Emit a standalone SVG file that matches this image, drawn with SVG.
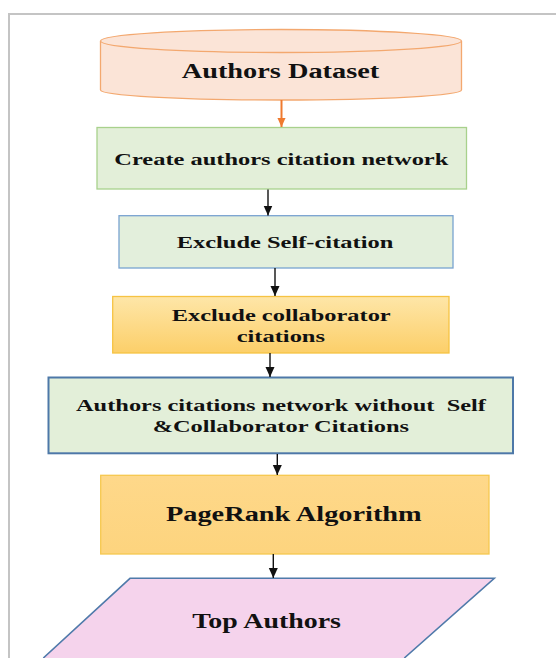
<svg xmlns="http://www.w3.org/2000/svg" width="556" height="658" viewBox="0 0 556 658">
<defs>
<style>
.t{font-family:"Liberation Serif","Times New Roman",serif;font-weight:bold;fill:#111;}
.s17{font-size:17px;}
.s20{font-size:20px;}
.con{stroke:#111;stroke-width:1.4;fill:none;}
</style>
<linearGradient id="gOr" x1="0" y1="0" x2="0" y2="1">
<stop offset="0" stop-color="#fee6a8"/>
<stop offset="1" stop-color="#fccf69"/>
</linearGradient>
<linearGradient id="gOr2" x1="0" y1="0" x2="0" y2="1">
<stop offset="0" stop-color="#fed88a"/>
<stop offset="1" stop-color="#fdd47e"/>
</linearGradient>
<marker id="ah" markerUnits="userSpaceOnUse" markerWidth="10" markerHeight="10" viewBox="0 0 10 10" refX="10" refY="5" orient="auto">
<path d="M0,0.5 L10,5 L0,9.5 Z" fill="#111"/>
</marker>
<marker id="aho" markerUnits="userSpaceOnUse" markerWidth="9" markerHeight="9" viewBox="0 0 10 10" refX="10" refY="5" orient="auto">
<path d="M0,0.5 L10,5 L0,9.5 Z" fill="#ef7a2f"/>
</marker>
</defs>
<rect width="556" height="658" fill="#fff"/>
<path d="M9,658 V14 H556" fill="none" stroke="#c4c4c4" stroke-width="2"/>

<g id="dataset">
<path d="M100.5,41 V90 A180.5,10 0 0 0 461.5,90 V41" fill="#fbe4d7" stroke="#f3a86f" stroke-width="1.3"/>
<ellipse cx="281" cy="41" rx="180.5" ry="11.5" fill="#fbe4d7" stroke="#f3a86f" stroke-width="1.3"/>
<text class="t s20" x="181.7" y="78.3" textLength="197.6" lengthAdjust="spacingAndGlyphs">Authors Dataset</text>
</g>

<g id="create">
<rect x="97" y="127.5" width="369.5" height="61.5" fill="#e3efd9" stroke="#a8d18c" stroke-width="1.3"/>
<text class="t s17" x="114.3" y="165" textLength="334" lengthAdjust="spacingAndGlyphs">Create authors citation network</text>
</g>

<g id="selfcite">
<rect x="119" y="215.7" width="334" height="52.3" fill="#e3efdc" stroke="#79a3d0" stroke-width="1.3"/>
<text class="t s17" x="176.7" y="248.3" textLength="216.6" lengthAdjust="spacingAndGlyphs">Exclude Self-citation</text>
</g>

<g id="collab">
<rect x="112.7" y="296.5" width="336.3" height="56.5" fill="url(#gOr)" stroke="#f6c343" stroke-width="1.3"/>
<text class="t s17" x="171.7" y="321" textLength="219" lengthAdjust="spacingAndGlyphs">Exclude collaborator</text>
<text class="t s17" x="236.7" y="342" textLength="88.3" lengthAdjust="spacingAndGlyphs">citations</text>
</g>

<g id="network">
<rect x="48.5" y="377.5" width="464.5" height="75.8" fill="#e3efd9" stroke="#4d78a8" stroke-width="2"/>
<text class="t s17" x="76" y="410.7" textLength="410" lengthAdjust="spacingAndGlyphs" style="white-space:pre">Authors citations network without  Self</text>
<text class="t s17" x="152.7" y="431.7" textLength="256.3" lengthAdjust="spacingAndGlyphs">&amp;Collaborator Citations</text>
</g>

<g id="pagerank">
<rect x="100.7" y="475.3" width="388.3" height="78.7" fill="url(#gOr2)" stroke="#f6c84f" stroke-width="1.3"/>
<text class="t s20" x="166" y="521" textLength="255.7" lengthAdjust="spacingAndGlyphs">PageRank Algorithm</text>
</g>

<g id="top">
<path d="M130,578.3 H494.3 L404.3,658 M43.3,658 L130,578.3" fill="none"/>
<path d="M130,578.3 L494.3,578.3 L404.3,658 L43.3,658 Z" fill="#f5d3ec" stroke="none"/>
<path d="M43.3,658 L130,578.3 L494.3,578.3 L404.3,658" fill="none" stroke="#4f7aaa" stroke-width="1.6"/>
<text class="t s20" x="192.3" y="628.3" textLength="148.7" lengthAdjust="spacingAndGlyphs">Top Authors</text>
</g>

<g id="connectors">
<line x1="281.5" y1="100" x2="281.5" y2="127" stroke="#ef7a2f" stroke-width="2" marker-end="url(#aho)"/>
<line class="con" x1="268" y1="189.5" x2="268" y2="215.5" marker-end="url(#ah)"/>
<line class="con" x1="275" y1="268" x2="275" y2="296" marker-end="url(#ah)"/>
<line class="con" x1="270" y1="353" x2="270" y2="377" marker-end="url(#ah)"/>
<line class="con" x1="277.3" y1="454" x2="277.3" y2="475" marker-end="url(#ah)"/>
<line class="con" x1="273.3" y1="554" x2="273.3" y2="578" marker-end="url(#ah)"/>
</g>
</svg>
